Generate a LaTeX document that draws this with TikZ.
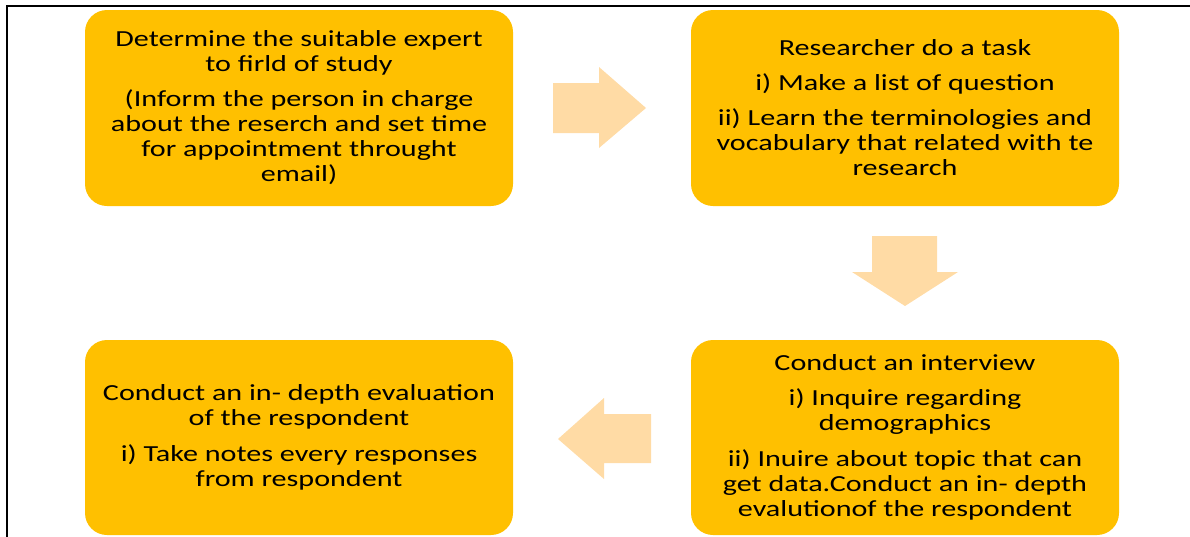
\documentclass[tikz,border=0pt]{standalone}
\usepackage{fontspec}
\setmainfont{Carlito}[FakeStretch=1.31]
\usepackage{xcolor}
\usetikzlibrary{positioning}
\definecolor{boxyellow}{HTML}{FFC000}
\definecolor{arrowpeach}{HTML}{FFDBA5}

\begin{document}
\begin{tikzpicture}[x=1pt, y=-1pt,
  stepbox/.style={fill=boxyellow, rounded corners=22pt, minimum width=428pt,
    minimum height=196pt, align=center, inner sep=0pt,
    font=\fontsize{23}{25}\selectfont},
  blockarrow/.style={fill=arrowpeach, draw=none}]
\useasboundingbox (0,0) rectangle (1190,536);

% frame
\draw[line width=2pt] (7,537) -- (7,6) -- (1191,6);

\node[stepbox] (expert) at (299,108) {Determine the suitable expert\\ to firld of study\\[10pt]
  (Inform the person in charge\\ about the reserch and set time\\ for appointment throught\\ email)};
\node[stepbox] (task) at (905,108) {Researcher do a task\\[10pt]
  i) Make a list of question\\[10pt]
  ii) Learn the terminologies and\\ vocabulary that related with te\\ research};
\node[stepbox, minimum height=195pt] (interview) at (905,437.5) {Conduct an interview\\[10pt]
  i) Inquire regarding\\ demographics\\[11pt]
  ii) Inuire about topic that can\\ get data.Conduct an in- depth\\ evalutionof the respondent};
\node[stepbox, minimum height=195pt] (evaluation) at (299,437.5) {Conduct an in- depth evaluation\\ of the respondent\\[11pt]
  i) Take notes every responses\\ from respondent};

% block arrows
\fill[blockarrow] (553,83) -- (599,83) -- (599,67) -- (646,108) -- (599,148) -- (599,133) -- (553,133) -- cycle;
\fill[blockarrow] (872,236) -- (937,236) -- (937,272) -- (958,272) -- (905,306) -- (852,272) -- (872,272) -- cycle;
\fill[blockarrow] (651,414) -- (604,414) -- (604,398) -- (558,439) -- (604,479) -- (604,463) -- (651,463) -- cycle;
\end{tikzpicture}
\end{document}
